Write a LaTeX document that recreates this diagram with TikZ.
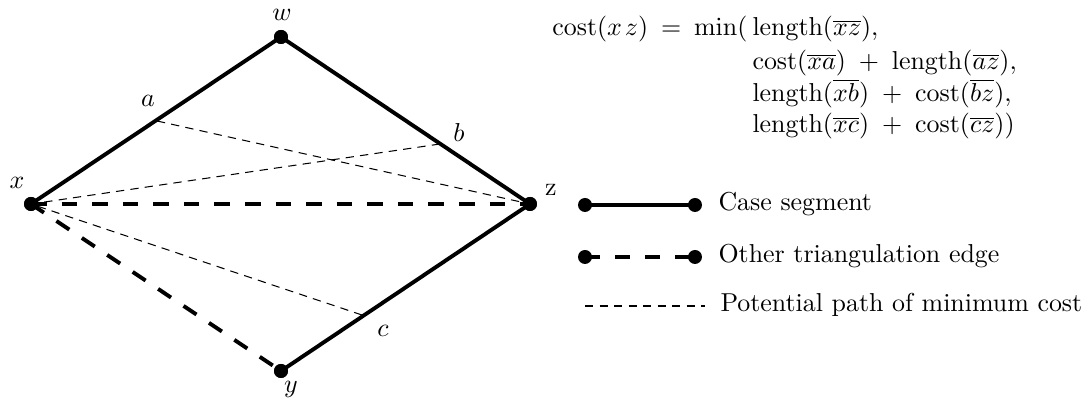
\documentclass[tikz,border=0pt]{standalone}
\usepackage{amsmath}
\begin{document}
\begin{tikzpicture}[x=0.386pt,y=-0.386pt,
  vdot/.style={circle,fill=black,draw=none,minimum size=5.4pt,inner sep=0pt},
  casebox/.style={line width=1.5pt},
  otheredge/.style={line width=1.5pt,dash pattern=on 6pt off 5.8pt},
  potpath/.style={line width=0.4pt,dash pattern=on 3.2pt off 2.4pt},
  lbl/.style={inner sep=0pt,font=\normalsize},
  txt/.style={inner sep=0pt,anchor=base west}]
\path[use as bounding box] (0,0) rectangle (1089,400);
% vertices
\node[vdot] (x) at (31,204) {};
\node[vdot] (w) at (281,37) {};
\node[vdot] (z) at (530,204) {};
\node[vdot] (y) at (281,371) {};
\coordinate (a) at (157,121);
\coordinate (b) at (440,144);
\coordinate (c) at (362,315);
% edges
\draw[otheredge] (x.center) -- (z.center);
\draw[otheredge] (x.center) -- (y.center);
\draw[casebox] (x.center) -- (w.center) -- (z.center) -- (y.center);
\draw[potpath] (a) -- (z.center);
\draw[potpath] (b) -- (x.center);
\draw[potpath] (c) -- (x.center);
\node[vdot] at (x) {};
\node[vdot] at (w) {};
\node[vdot] at (z) {};
\node[vdot] at (y) {};
% labels
\node[lbl] (lw) at (282,15) {$w$};
\node[lbl] (la) at (148,101) {$a$};
\node[lbl] (lb) at (459,133) {$b$};
\node[lbl] (lx) at (17,183) {$x$};
\node[lbl] (lz) at (551,190) {z};
\node[lbl] (lc) at (383,331) {$c$};
\node[lbl] (ly) at (291,389) {$y$};
% formula
\node[inner sep=0pt,anchor=base east] (f1) at (748,36) {$\mathrm{cost}(x\mkern2mu z)\:=\:\min($};
\node[txt] (f1b) at (752,36) {$\mathrm{length}(\overline{xz}),$};
\node[txt] (f2) at (752,70) {$\mathrm{cost}(\overline{xa})\;+\;\mathrm{length}(\overline{az}),$};
\node[txt] (f3) at (752,102) {$\mathrm{length}(\overline{xb})\;+\;\mathrm{cost}(\overline{bz}),$};
\node[txt] (f4) at (752,133) {$\mathrm{length}(\overline{xc})\;+\;\mathrm{cost}(\overline{cz}))$};
% legend
\node[vdot] (k1a) at (585,205) {};
\node[vdot] (k1b) at (695,205) {};
\draw[casebox] (k1a.center) -- (k1b.center);
\node[txt] (t1) at (718,211) {Case segment};
\node[vdot] (k2a) at (585,257) {};
\node[vdot] (k2b) at (695,257) {};
\draw[otheredge,dash pattern=on 5.8pt off 5.8pt] (k2a.center) -- (k2b.center);
\node[txt] (t2) at (718,263) {Other triangulation edge};
\coordinate (k3a) at (585,306);
\coordinate (k3b) at (705,306);
\draw[potpath] (k3a) -- (k3b);
\node[txt] (t3) at (720,312) {Potential path of minimum cost};
\end{tikzpicture}
\end{document}
